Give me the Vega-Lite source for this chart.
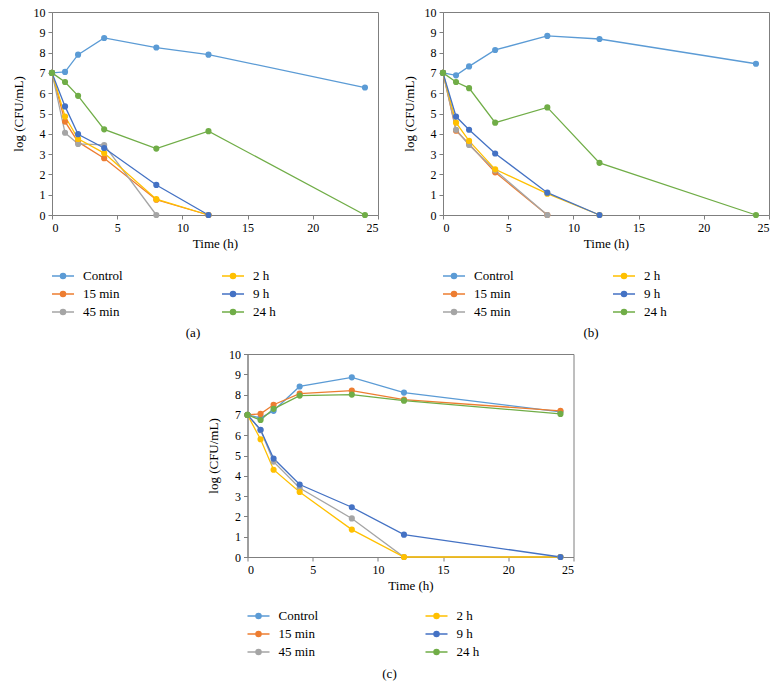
{
  "$schema": "https://vega.github.io/schema/vega-lite/v6.json",
  "padding": {"left": 11, "top": 5, "right": 5, "bottom": 5},
  "background": "white",
  "config": {
    "font": "Liberation Serif",
    "view": {"stroke": "#7f7f7f", "strokeWidth": 1},
    "axis": {
      "grid": false,
      "domainColor": "#7f7f7f",
      "tickColor": "#7f7f7f",
      "tickSize": 4,
      "labelFont": "Liberation Serif",
      "labelFontSize": 12,
      "labelColor": "#000000",
      "titleFont": "Liberation Serif",
      "titleFontSize": 13,
      "titleFontWeight": "normal",
      "titleColor": "#000000",
      "labelPadding": 3
    },
    "legend": {
      "labelFont": "Liberation Serif",
      "labelFontSize": 13,
      "labelColor": "#000000"
    },
    "title": {"font": "Liberation Serif", "fontSize": 13, "fontWeight": "normal", "color": "#000000"}
  },
  "datasets": {
    "pts": [
      {"panel": "a", "series": "Control", "t": 0, "v": 7.0},
      {"panel": "a", "series": "Control", "t": 1, "v": 7.05},
      {"panel": "a", "series": "Control", "t": 2, "v": 7.9},
      {"panel": "a", "series": "Control", "t": 4, "v": 8.72},
      {"panel": "a", "series": "Control", "t": 8, "v": 8.25},
      {"panel": "a", "series": "Control", "t": 12, "v": 7.9},
      {"panel": "a", "series": "Control", "t": 24, "v": 6.28},
      {"panel": "a", "series": "15 min", "t": 0, "v": 7.0},
      {"panel": "a", "series": "15 min", "t": 1, "v": 4.6},
      {"panel": "a", "series": "15 min", "t": 2, "v": 3.6},
      {"panel": "a", "series": "15 min", "t": 4, "v": 2.8},
      {"panel": "a", "series": "15 min", "t": 8, "v": 0.75},
      {"panel": "a", "series": "15 min", "t": 12, "v": 0},
      {"panel": "a", "series": "45 min", "t": 0, "v": 7.0},
      {"panel": "a", "series": "45 min", "t": 1, "v": 4.05},
      {"panel": "a", "series": "45 min", "t": 2, "v": 3.5},
      {"panel": "a", "series": "45 min", "t": 4, "v": 3.45},
      {"panel": "a", "series": "45 min", "t": 8, "v": 0},
      {"panel": "a", "series": "2 h", "t": 0, "v": 7.0},
      {"panel": "a", "series": "2 h", "t": 1, "v": 4.85},
      {"panel": "a", "series": "2 h", "t": 2, "v": 3.75},
      {"panel": "a", "series": "2 h", "t": 4, "v": 3.05},
      {"panel": "a", "series": "2 h", "t": 8, "v": 0.78},
      {"panel": "a", "series": "2 h", "t": 12, "v": 0},
      {"panel": "a", "series": "9 h", "t": 0, "v": 7.0},
      {"panel": "a", "series": "9 h", "t": 1, "v": 5.35},
      {"panel": "a", "series": "9 h", "t": 2, "v": 3.98},
      {"panel": "a", "series": "9 h", "t": 4, "v": 3.3},
      {"panel": "a", "series": "9 h", "t": 8, "v": 1.48},
      {"panel": "a", "series": "9 h", "t": 12, "v": 0},
      {"panel": "a", "series": "24 h", "t": 0, "v": 7.0},
      {"panel": "a", "series": "24 h", "t": 1, "v": 6.55},
      {"panel": "a", "series": "24 h", "t": 2, "v": 5.87},
      {"panel": "a", "series": "24 h", "t": 4, "v": 4.22},
      {"panel": "a", "series": "24 h", "t": 8, "v": 3.27},
      {"panel": "a", "series": "24 h", "t": 12, "v": 4.13},
      {"panel": "a", "series": "24 h", "t": 24, "v": 0},

      {"panel": "b", "series": "Control", "t": 0, "v": 7.0},
      {"panel": "b", "series": "Control", "t": 1, "v": 6.88},
      {"panel": "b", "series": "Control", "t": 2, "v": 7.32},
      {"panel": "b", "series": "Control", "t": 4, "v": 8.13},
      {"panel": "b", "series": "Control", "t": 8, "v": 8.82},
      {"panel": "b", "series": "Control", "t": 12, "v": 8.67},
      {"panel": "b", "series": "Control", "t": 24, "v": 7.45},
      {"panel": "b", "series": "15 min", "t": 0, "v": 7.0},
      {"panel": "b", "series": "15 min", "t": 1, "v": 4.15},
      {"panel": "b", "series": "15 min", "t": 2, "v": 3.5},
      {"panel": "b", "series": "15 min", "t": 4, "v": 2.1},
      {"panel": "b", "series": "15 min", "t": 8, "v": 0},
      {"panel": "b", "series": "45 min", "t": 0, "v": 7.0},
      {"panel": "b", "series": "45 min", "t": 1, "v": 4.2},
      {"panel": "b", "series": "45 min", "t": 2, "v": 3.45},
      {"panel": "b", "series": "45 min", "t": 4, "v": 2.2},
      {"panel": "b", "series": "45 min", "t": 8, "v": 0},
      {"panel": "b", "series": "2 h", "t": 0, "v": 7.0},
      {"panel": "b", "series": "2 h", "t": 1, "v": 4.55},
      {"panel": "b", "series": "2 h", "t": 2, "v": 3.65},
      {"panel": "b", "series": "2 h", "t": 4, "v": 2.25},
      {"panel": "b", "series": "2 h", "t": 8, "v": 1.05},
      {"panel": "b", "series": "2 h", "t": 12, "v": 0},
      {"panel": "b", "series": "9 h", "t": 0, "v": 7.0},
      {"panel": "b", "series": "9 h", "t": 1, "v": 4.85},
      {"panel": "b", "series": "9 h", "t": 2, "v": 4.2},
      {"panel": "b", "series": "9 h", "t": 4, "v": 3.03},
      {"panel": "b", "series": "9 h", "t": 8, "v": 1.1},
      {"panel": "b", "series": "9 h", "t": 12, "v": 0},
      {"panel": "b", "series": "24 h", "t": 0, "v": 7.0},
      {"panel": "b", "series": "24 h", "t": 1, "v": 6.55},
      {"panel": "b", "series": "24 h", "t": 2, "v": 6.25},
      {"panel": "b", "series": "24 h", "t": 4, "v": 4.55},
      {"panel": "b", "series": "24 h", "t": 8, "v": 5.3},
      {"panel": "b", "series": "24 h", "t": 12, "v": 2.57},
      {"panel": "b", "series": "24 h", "t": 24, "v": 0},

      {"panel": "c", "series": "Control", "t": 0, "v": 7.0},
      {"panel": "c", "series": "Control", "t": 1, "v": 6.85},
      {"panel": "c", "series": "Control", "t": 2, "v": 7.2},
      {"panel": "c", "series": "Control", "t": 4, "v": 8.4},
      {"panel": "c", "series": "Control", "t": 8, "v": 8.85},
      {"panel": "c", "series": "Control", "t": 12, "v": 8.1},
      {"panel": "c", "series": "Control", "t": 24, "v": 7.15},
      {"panel": "c", "series": "15 min", "t": 0, "v": 7.0},
      {"panel": "c", "series": "15 min", "t": 1, "v": 7.05},
      {"panel": "c", "series": "15 min", "t": 2, "v": 7.5},
      {"panel": "c", "series": "15 min", "t": 4, "v": 8.05},
      {"panel": "c", "series": "15 min", "t": 8, "v": 8.2},
      {"panel": "c", "series": "15 min", "t": 12, "v": 7.75},
      {"panel": "c", "series": "15 min", "t": 24, "v": 7.2},
      {"panel": "c", "series": "45 min", "t": 0, "v": 7.0},
      {"panel": "c", "series": "45 min", "t": 1, "v": 6.25},
      {"panel": "c", "series": "45 min", "t": 2, "v": 4.7},
      {"panel": "c", "series": "45 min", "t": 4, "v": 3.4},
      {"panel": "c", "series": "45 min", "t": 8, "v": 1.9},
      {"panel": "c", "series": "45 min", "t": 12, "v": 0},
      {"panel": "c", "series": "45 min", "t": 24, "v": 0},
      {"panel": "c", "series": "2 h", "t": 0, "v": 7.0},
      {"panel": "c", "series": "2 h", "t": 1, "v": 5.8},
      {"panel": "c", "series": "2 h", "t": 2, "v": 4.3},
      {"panel": "c", "series": "2 h", "t": 4, "v": 3.2},
      {"panel": "c", "series": "2 h", "t": 8, "v": 1.35},
      {"panel": "c", "series": "2 h", "t": 12, "v": 0},
      {"panel": "c", "series": "2 h", "t": 24, "v": 0},
      {"panel": "c", "series": "9 h", "t": 0, "v": 7.0},
      {"panel": "c", "series": "9 h", "t": 1, "v": 6.27},
      {"panel": "c", "series": "9 h", "t": 2, "v": 4.85},
      {"panel": "c", "series": "9 h", "t": 4, "v": 3.57},
      {"panel": "c", "series": "9 h", "t": 8, "v": 2.45},
      {"panel": "c", "series": "9 h", "t": 12, "v": 1.1},
      {"panel": "c", "series": "9 h", "t": 24, "v": 0},
      {"panel": "c", "series": "24 h", "t": 0, "v": 7.0},
      {"panel": "c", "series": "24 h", "t": 1, "v": 6.75},
      {"panel": "c", "series": "24 h", "t": 2, "v": 7.3},
      {"panel": "c", "series": "24 h", "t": 4, "v": 7.95},
      {"panel": "c", "series": "24 h", "t": 8, "v": 8.0},
      {"panel": "c", "series": "24 h", "t": 12, "v": 7.7},
      {"panel": "c", "series": "24 h", "t": 24, "v": 7.05}
    ]
  },
  "data": {"name": "pts"},
  "resolve": {"scale": {"color": "independent", "fill": "independent"}, "legend": {"color": "independent"}},
  "center": true,
  "spacing": 6,
  "vconcat": [
    {
      "resolve": {"scale": {"color": "independent", "fill": "independent"}, "legend": {"color": "independent"}},
      "bounds": "flush",
      "spacing": 65,
      "hconcat": [
        {
          "width": 326, "height": 203,
          "title": {"text": "(a)", "orient": "bottom", "anchor": "middle", "frame": "group", "dx": -22, "offset": 8, "font": "Liberation Serif"},
          "transform": [{"filter": "datum.panel == 'a'"}],
          "encoding": {
            "x": {"field": "t", "type": "quantitative", "title": "Time (h)", "scale": {"domain": [0, 25], "nice": false}, "axis": {"values": [0, 5, 10, 15, 20, 25], "titlePadding": 4, "titleFont": "Liberation Serif", "labelFont": "Liberation Serif"}},
            "y": {"field": "v", "type": "quantitative", "title": "log (CFU/mL)", "scale": {"domain": [0, 10], "nice": false}, "axis": {"values": [0, 1, 2, 3, 4, 5, 6, 7, 8, 9, 10], "titlePadding": 8, "titleFont": "Liberation Serif", "labelFont": "Liberation Serif"}}
          },
          "layer": [
            {
              "mark": {"type": "line", "strokeWidth": 1.3},
              "encoding": {"color": {"field": "series", "type": "nominal",
                "scale": {"domain": ["Control", "15 min", "45 min", "2 h", "9 h", "24 h"], "range": ["#5B9BD5", "#ED7D31", "#A5A5A5", "#FFC000", "#4472C4", "#70AD47"]},
                "legend": {"title": null, "orient": "none", "legendX": -1, "legendY": 257, "columns": 2, "columnPadding": 96, "rowPadding": 4, "symbolSize": 144, "symbolStrokeWidth": 1.5, "labelOffset": 18, "symbolOpacity": 1, "labelFont": "Liberation Serif", "labelFontSize": 13,
                  "symbolType": "M-1,0L2.67,0 M1.255,0A0.42,0.42 0 1,1 0.415,0A0.42,0.42 0 1,1 1.255,0 M1.085,0A0.25,0.25 0 1,1 0.585,0A0.25,0.25 0 1,1 1.085,0 M0.935,0A0.1,0.1 0 1,1 0.735,0A0.1,0.1 0 1,1 0.935,0"}}}
            },
            {
              "mark": {"type": "point", "filled": true, "size": 38, "opacity": 1},
              "encoding": {"fill": {"field": "series", "type": "nominal", "legend": null,
                "scale": {"domain": ["Control", "15 min", "45 min", "2 h", "9 h", "24 h"], "range": ["#5B9BD5", "#ED7D31", "#A5A5A5", "#FFC000", "#4472C4", "#70AD47"]}}}
            }
          ]
        },
        {
          "width": 326, "height": 203,
          "title": {"text": "(b)", "orient": "bottom", "anchor": "middle", "frame": "group", "dx": -15, "offset": 8, "font": "Liberation Serif"},
          "transform": [{"filter": "datum.panel == 'b'"}],
          "encoding": {
            "x": {"field": "t", "type": "quantitative", "title": "Time (h)", "scale": {"domain": [0, 25], "nice": false}, "axis": {"values": [0, 5, 10, 15, 20, 25], "titlePadding": 4, "titleFont": "Liberation Serif", "labelFont": "Liberation Serif"}},
            "y": {"field": "v", "type": "quantitative", "title": "log (CFU/mL)", "scale": {"domain": [0, 10], "nice": false}, "axis": {"values": [0, 1, 2, 3, 4, 5, 6, 7, 8, 9, 10], "titlePadding": 8, "titleFont": "Liberation Serif", "labelFont": "Liberation Serif"}}
          },
          "layer": [
            {
              "mark": {"type": "line", "strokeWidth": 1.3},
              "encoding": {"color": {"field": "series", "type": "nominal",
                "scale": {"domain": ["Control", "15 min", "45 min", "2 h", "9 h", "24 h"], "range": ["#5B9BD5", "#ED7D31", "#A5A5A5", "#FFC000", "#4472C4", "#70AD47"]},
                "legend": {"title": null, "orient": "none", "legendX": -1, "legendY": 257, "columns": 2, "columnPadding": 96, "rowPadding": 4, "symbolSize": 144, "symbolStrokeWidth": 1.5, "labelOffset": 18, "symbolOpacity": 1, "labelFont": "Liberation Serif", "labelFontSize": 13,
                  "symbolType": "M-1,0L2.67,0 M1.255,0A0.42,0.42 0 1,1 0.415,0A0.42,0.42 0 1,1 1.255,0 M1.085,0A0.25,0.25 0 1,1 0.585,0A0.25,0.25 0 1,1 1.085,0 M0.935,0A0.1,0.1 0 1,1 0.735,0A0.1,0.1 0 1,1 0.935,0"}}}
            },
            {
              "mark": {"type": "point", "filled": true, "size": 38, "opacity": 1},
              "encoding": {"fill": {"field": "series", "type": "nominal", "legend": null,
                "scale": {"domain": ["Control", "15 min", "45 min", "2 h", "9 h", "24 h"], "range": ["#5B9BD5", "#ED7D31", "#A5A5A5", "#FFC000", "#4472C4", "#70AD47"]}}}
            }
          ]
        }
      ]
    },
    {
      "width": 326, "height": 203,
      "title": {"text": "(c)", "orient": "bottom", "anchor": "middle", "frame": "group", "dx": -21, "offset": 9, "font": "Liberation Serif"},
      "transform": [{"filter": "datum.panel == 'c'"}],
      "encoding": {
        "x": {"field": "t", "type": "quantitative", "title": "Time (h)", "scale": {"domain": [0, 25], "nice": false}, "axis": {"values": [0, 5, 10, 15, 20, 25], "titlePadding": 4, "titleFont": "Liberation Serif", "labelFont": "Liberation Serif"}},
        "y": {"field": "v", "type": "quantitative", "title": "log (CFU/mL)", "scale": {"domain": [0, 10], "nice": false}, "axis": {"values": [0, 1, 2, 3, 4, 5, 6, 7, 8, 9, 10], "titlePadding": 8, "titleFont": "Liberation Serif", "labelFont": "Liberation Serif"}}
      },
      "layer": [
        {
          "mark": {"type": "line", "strokeWidth": 1.3},
          "encoding": {"color": {"field": "series", "type": "nominal",
            "scale": {"domain": ["Control", "15 min", "45 min", "2 h", "9 h", "24 h"], "range": ["#5B9BD5", "#ED7D31", "#A5A5A5", "#FFC000", "#4472C4", "#70AD47"]},
            "legend": {"title": null, "orient": "none", "legendX": -1, "legendY": 255, "columns": 2, "columnPadding": 104, "rowPadding": 4, "symbolSize": 144, "symbolStrokeWidth": 1.5, "labelOffset": 18, "symbolOpacity": 1, "labelFont": "Liberation Serif", "labelFontSize": 13,
              "symbolType": "M-1,0L2.67,0 M1.255,0A0.42,0.42 0 1,1 0.415,0A0.42,0.42 0 1,1 1.255,0 M1.085,0A0.25,0.25 0 1,1 0.585,0A0.25,0.25 0 1,1 1.085,0 M0.935,0A0.1,0.1 0 1,1 0.735,0A0.1,0.1 0 1,1 0.935,0"}}}
        },
        {
          "mark": {"type": "point", "filled": true, "size": 38, "opacity": 1},
          "encoding": {"fill": {"field": "series", "type": "nominal", "legend": null,
            "scale": {"domain": ["Control", "15 min", "45 min", "2 h", "9 h", "24 h"], "range": ["#5B9BD5", "#ED7D31", "#A5A5A5", "#FFC000", "#4472C4", "#70AD47"]}}}
        }
      ]
    }
  ]
}
